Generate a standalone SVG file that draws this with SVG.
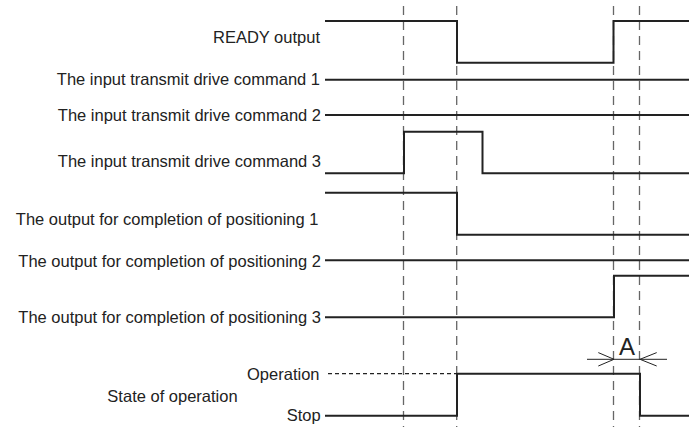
<svg xmlns="http://www.w3.org/2000/svg" width="689" height="427" viewBox="0 0 689 427">
<style>
  text { font-family: "Liberation Sans", Arial, sans-serif; font-size: 16.5px; fill: #222; }
  .lbl { text-anchor: end; }
  .sig { fill: none; stroke: #222; stroke-width: 2; }
  .guide { fill: none; stroke: #666; stroke-width: 1.3; stroke-dasharray: 9 6; }
  .dim { fill: none; stroke: #222; stroke-width: 1; }
  .opdash { fill: none; stroke: #222; stroke-width: 1.3; stroke-dasharray: 4 3; }
</style>
<rect width="689" height="427" fill="#fff"/>
<g id="guides">
  <line class="guide" x1="403.5" y1="6" x2="403.5" y2="427"/>
  <line class="guide" x1="456.7" y1="6" x2="456.7" y2="427"/>
  <line class="guide" x1="613.5" y1="6" x2="613.5" y2="427"/>
  <line class="guide" x1="639.5" y1="6" x2="639.5" y2="427"/>
</g>
<g id="ready">
  <text class="lbl" x="320" y="43.3">READY output</text>
  <path class="sig" d="M325,21 H457 V62.7 H613.5 V21 H689"/>
</g>
<g id="cmd1">
  <text class="lbl" x="320" y="85">The input transmit drive command 1</text>
  <path class="sig" d="M325,79.7 H689"/>
</g>
<g id="cmd2">
  <text class="lbl" x="321" y="120.5">The input transmit drive command 2</text>
  <path class="sig" d="M325,115 H689"/>
</g>
<g id="cmd3">
  <text class="lbl" x="321" y="166.7">The input transmit drive command 3</text>
  <path class="sig" d="M325,173.3 H404 V131.7 H482.5 V173.3 H689"/>
</g>
<g id="pos1">
  <text class="lbl" x="318.5" y="225">The output for completion of positioning 1</text>
  <path class="sig" d="M325,192.7 H457 V234.7 H689"/>
</g>
<g id="pos2">
  <text class="lbl" x="321" y="266.7">The output for completion of positioning 2</text>
  <path class="sig" d="M325,260.3 H689"/>
</g>
<g id="pos3">
  <text class="lbl" x="321" y="323.3">The output for completion of positioning 3</text>
  <path class="sig" d="M325,317.3 H614 V275.7 H689"/>
</g>
<g id="state">
  <text x="172.5" y="401.7" text-anchor="middle">State of operation</text>
  <text class="lbl" x="319.5" y="380">Operation</text>
  <text class="lbl" x="320.7" y="420.7">Stop</text>
  <path class="opdash" d="M328,373.7 H457"/>
  <path class="sig" d="M325,415.7 H457 V373.7 H640 V415.7 H689"/>
</g>
<g id="dimension">
  <path class="dim" d="M587,359.3 H667"/>
  <path class="dim" d="M598.3,352.6 L614,359.3 L598.3,366"/>
  <path class="dim" d="M656.7,352.6 L640,359.3 L656.7,366"/>
  <text x="627" y="355" text-anchor="middle" style="font-size:24px">A</text>
</g>
</svg>
